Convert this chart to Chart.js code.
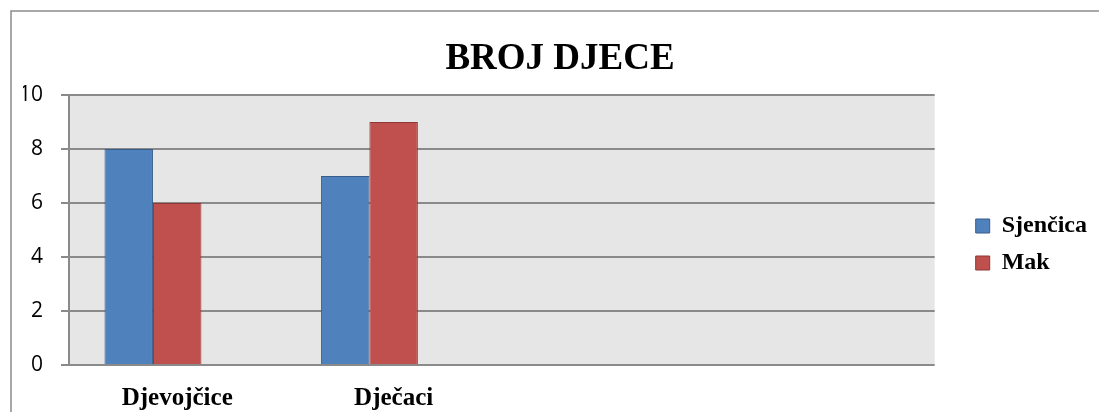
<!DOCTYPE html>
<html>
<head>
<meta charset="utf-8">
<script src="https://cdn.jsdelivr.net/npm/chart.js@4/dist/chart.umd.min.js"></script>
<style>
  html, body { margin: 0; padding: 0; background: #fff; }
  #okvir { width: 1099px; height: 412px; position: relative; }
</style>
</head>
<body>
<div id="okvir"><canvas id="grafikon"></canvas></div>
<script>
const kategorije = ['Djevojčice', 'Dječaci', '', ''];
const sjencica = [8, 7];
const mak = [6, 9];
const prazno = [];
const osY = { min: 0, max: 10, korak: 2 };

const serif = "'Liberation Serif', 'Times New Roman', serif";

// sivi okvir i pozadina područja crtanja
const pozadina = {
    id: 'pozadina',
    beforeDraw(chart) {
        const { ctx, chartArea } = chart;
        ctx.save();
        ctx.strokeStyle = '#8c8c8c';
        ctx.lineWidth = 1.5;
        ctx.beginPath();
        ctx.moveTo(11, 412);
        ctx.lineTo(11, 11);
        ctx.lineTo(1099, 11);
        ctx.stroke();
        ctx.fillStyle = '#e6e6e6';
        ctx.fillRect(chartArea.left, chartArea.top, chartArea.right - chartArea.left, chartArea.bottom - chartArea.top);
        ctx.restore();
    }
};

new Chart(document.getElementById('grafikon'), {
    type: 'bar',
    data: {
        labels: kategorije,
        datasets: [{
            label: 'Sjenčica',
            data: sjencica,
            backgroundColor: '#4f81bd',
            borderColor: '#385d8a',
            borderWidth: 1
        }, {
            label: 'Mak',
            data: mak,
            backgroundColor: '#c0504d',
            borderColor: '#8c3836',
            borderWidth: 1
        }, {
            label: '',
            data: prazno
        }]
    },
    options: {
        responsive: true,
        maintainAspectRatio: false,
        animation: false,
        categoryPercentage: 0.672,
        barPercentage: 1,
        layout: { padding: { left: 23, right: 2, top: 0, bottom: 0 } },
        plugins: {
            title: {
                display: true,
                text: 'BROJ DJECE',
                color: '#000',
                font: { family: serif, size: 37, weight: 'bold', lineHeight: 1.2 },
                padding: { top: 37, bottom: 13.6 }
            },
            legend: {
                position: 'right',
                title: { display: true, text: '', font: { size: 10, lineHeight: 1 }, padding: { top: 67, bottom: 0 } },
                labels: {
                    color: '#000',
                    boxWidth: 14,
                    boxHeight: 14,
                    padding: 13,
                    font: { family: serif, size: 24, weight: 'bold' },
                    filter: (item) => item.text !== ''
                }
            },
            tooltip: { enabled: false }
        },
        scales: {
            x: {
                afterFit(s) { s.height = 47; },
                grid: { display: false, drawTicks: false },
                border: { display: false },
                ticks: {
                    color: '#000',
                    padding: 19,
                    maxRotation: 0,
                    font: { family: serif, size: 25, weight: 'bold', lineHeight: 1.2 }
                }
            },
            y: {
                min: osY.min,
                max: osY.max,
                afterFit(s) { s.width = 46; },
                ticks: {
                    stepSize: osY.korak,
                    color: '#000',
                    padding: 18,
                    font: { family: "'Open Sans', sans-serif", size: 21 }
                },
                grid: { color: '#8a8a8a', lineWidth: 2, tickLength: 8 },
                border: { color: '#8a8a8a', width: 2 }
            },
            razmak: {
                type: 'linear',
                position: 'right',
                display: true,
                afterFit(s) { s.width = 28; },
                grid: { display: false },
                border: { display: false },
                ticks: { display: false }
            }
        }
    },
    plugins: [pozadina]
});
</script>
</body>
</html>
